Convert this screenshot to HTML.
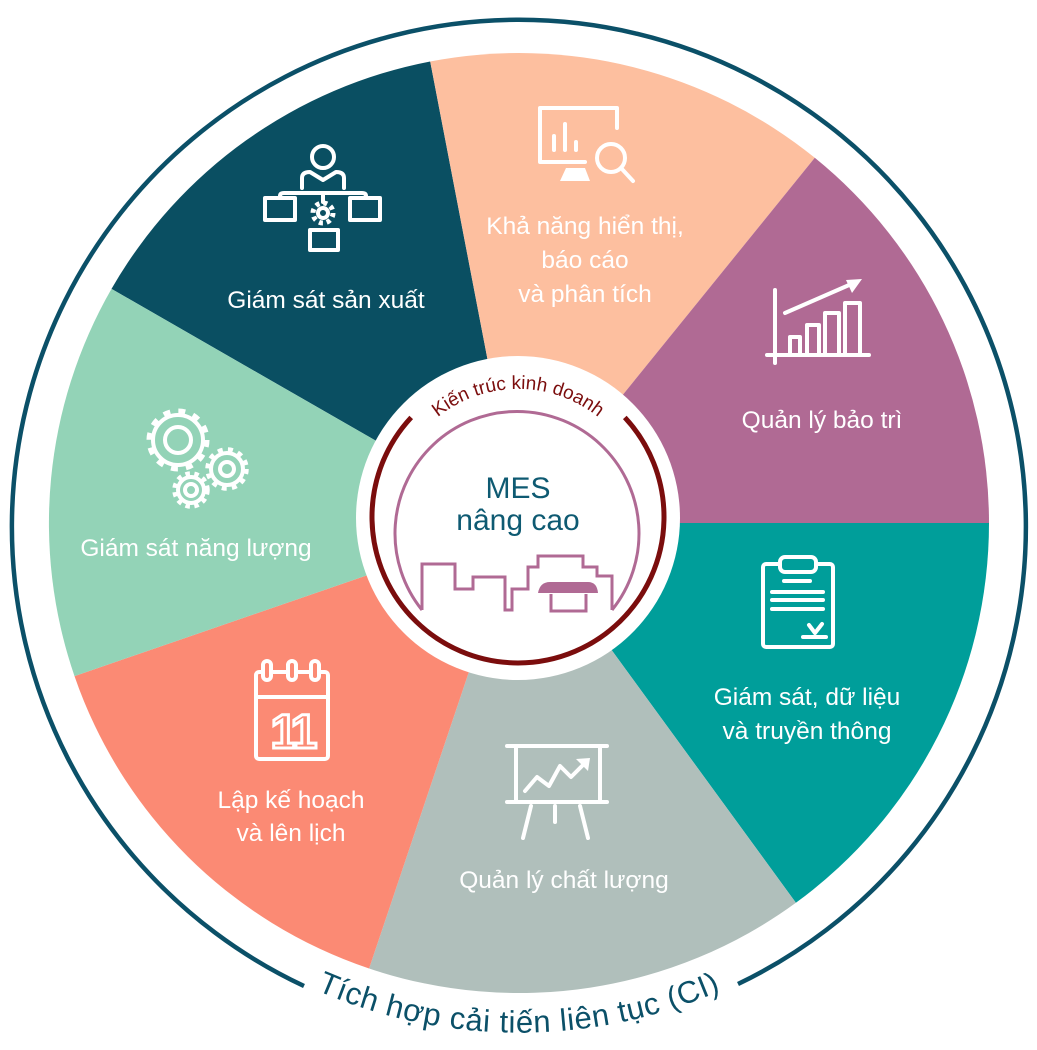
<!DOCTYPE html>
<html><head><meta charset="utf-8"><style>
html,body{margin:0;padding:0;background:#fff;}
svg{display:block;}
.lbl{font-family:"Liberation Sans",sans-serif;font-size:24.5px;fill:#fff;text-anchor:middle;}
.ic{fill:none;stroke:#fff;stroke-width:4;stroke-linecap:round;stroke-linejoin:round;}
</style></head><body>
<svg width="1037" height="1050" viewBox="0 0 1037 1050" xmlns="http://www.w3.org/2000/svg">
<g>
<path d="M519 523 L111.5 288.9 A470 470 0 0 1 430.2 61.5 Z" fill="#0a4f62"/>
<path d="M519 523 L430.2 61.5 A470 470 0 0 1 814.8 157.8 Z" fill="#fdbf9f"/>
<path d="M519 523 L814.8 157.8 A470 470 0 0 1 989 523 Z" fill="#b06a94"/>
<path d="M519 523 L989 523 A470 470 0 0 1 795.9 902.8 Z" fill="#009e9a"/>
<path d="M519 523 L795.9 902.8 A470 470 0 0 1 369.1 968.5 Z" fill="#b0bfbb"/>
<path d="M519 523 L369.1 968.5 A470 470 0 0 1 74.5 676.1 Z" fill="#fb8a74"/>
<path d="M519 523 L74.5 676.1 A470 470 0 0 1 111.5 288.9 Z" fill="#93d3b7"/>
</g>
<path d="M304 986 A507 507 0 1 1 738 984" fill="none" stroke="#0b5068" stroke-width="4.5"/>
<path id="outerTxt" d="M81 780 A506 506 0 0 0 957 780" fill="none"/>
<text font-family="Liberation Sans, sans-serif" font-size="31" fill="#0b5068" letter-spacing="0.6"><textPath href="#outerTxt" startOffset="50%" text-anchor="middle">Tích hợp cải tiến liên tục (CI)</textPath></text>

<circle cx="518" cy="518" r="162" fill="#fff"/>
<path d="M624.8 417.4 A146 146 0 1 1 411.2 417.4" fill="none" stroke="#7b0d0d" stroke-width="5"/>
<path id="innerTxt" d="M397.7 473.2 A128 128 0 0 1 638.3 473.2" fill="none"/>
<text font-family="Liberation Sans, sans-serif" font-size="19" fill="#7b0d0d"><textPath href="#innerTxt" startOffset="50%" text-anchor="middle">Kiến trúc kinh doanh</textPath></text>
<path d="M422 610 A122 122 0 1 1 612 610" fill="none" stroke="#b06a94" stroke-width="3"/>
<polyline points="422,610 422,564 455,564 455,589 473,589 473,577 505,577 505,610 512,610 512,589 528,589 528,567 538,567 538,556 583,556 583,567 597,567 597,576 612,576 612,610" fill="none" stroke="#b06a94" stroke-width="3"/>
<path d="M538 593 Q540 582 550 582 L588 582 Q597 582 598 593 Z" fill="#b06a94"/>
<polyline points="551,594 551,611 586,611 586,594" fill="none" stroke="#b06a94" stroke-width="3"/>
<text x="518" y="498" font-family="Liberation Sans, sans-serif" font-size="30" fill="#0e5a72" text-anchor="middle">MES</text>
<text x="518" y="530" font-family="Liberation Sans, sans-serif" font-size="30" fill="#0e5a72" text-anchor="middle">nâng cao</text>

<text class="lbl" x="326" y="308">Giám sát sản xuất</text>
<text class="lbl" x="585" y="234">Khả năng hiển thị,</text>
<text class="lbl" x="585" y="268">báo cáo</text>
<text class="lbl" x="585" y="302">và phân tích</text>
<text class="lbl" x="822" y="428">Quản lý bảo trì</text>
<text class="lbl" x="807" y="705">Giám sát, dữ liệu</text>
<text class="lbl" x="807" y="739">và truyền thông</text>
<text class="lbl" x="564" y="888">Quản lý chất lượng</text>
<text class="lbl" x="291" y="808">Lập kế hoạch</text>
<text class="lbl" x="291" y="841">và lên lịch</text>
<text class="lbl" x="196" y="556">Giám sát năng lượng</text>

<g class="ic" stroke-width="3">
<circle cx="323" cy="157" r="11"/>
<path d="M302 188 L302 178 Q302 172 310 172 L323 180 L336 172 Q344 172 344 178 L344 188"/>
<path d="M280 198 L280 196 Q280 193 284 193 L362 193 Q366 193 366 196 L366 198"/>
<line x1="323" y1="193" x2="323" y2="202"/>
<rect x="265" y="198" width="30" height="22"/>
<rect x="350" y="198" width="30" height="22"/>
<rect x="310" y="230" width="28" height="20"/>
<circle cx="323" cy="213" r="5"/>
<circle cx="323" cy="213" r="10" stroke-dasharray="4 3.85" stroke-width="5" stroke-linecap="butt"/>
</g>
<g class="ic" stroke-width="4.5">
<path d="M617 128 L617 108 L540 108 L540 162 L585 162"/>
<line x1="554" y1="150" x2="554" y2="136"/>
<line x1="565" y1="150" x2="565" y2="124"/>
<line x1="576" y1="150" x2="576" y2="142"/>
<circle cx="611" cy="158" r="14"/>
<line x1="621" y1="168" x2="633" y2="181"/>
</g>
<path d="M566 168 L585 168 L590 181 L560 181 Z" fill="#fff"/>
<g class="ic" stroke-width="3.5">
<line x1="775" y1="290" x2="775" y2="363"/>
<line x1="767" y1="355" x2="869" y2="355"/>
<rect x="790" y="337" width="10" height="18"/>
<rect x="807" y="325" width="12" height="30"/>
<rect x="825" y="313" width="14" height="42"/>
<rect x="845" y="303" width="15" height="52"/>
<line x1="785" y1="313" x2="856" y2="282"/>
</g>
<path d="M862 279 L846 280 L852 293 Z" fill="#fff"/>
<g class="ic" stroke-width="4">
<rect x="763" y="564" width="70" height="83" rx="3"/>
<rect x="780" y="557" width="36" height="15" rx="5" fill="#009e9a"/>
<line x1="784" y1="581" x2="810" y2="581"/>
<line x1="772" y1="592" x2="823" y2="592"/>
<line x1="772" y1="600" x2="823" y2="600"/>
<line x1="772" y1="609" x2="823" y2="609"/>
<path d="M809 625 L815 633 L822 624"/>
<line x1="803" y1="637" x2="826" y2="637"/>
</g>
<g class="ic" stroke-width="4">
<line x1="507" y1="746" x2="607" y2="746"/>
<line x1="507" y1="802" x2="607" y2="802"/>
<rect x="516" y="746" width="84" height="56"/>
<path d="M525 791 L537 777 L549 786 L560 766 L571 777 L586 762"/>
<line x1="531" y1="806" x2="523" y2="838"/>
<line x1="555" y1="806" x2="555" y2="822"/>
<line x1="580" y1="806" x2="588" y2="838"/>
</g>
<path d="M590 758 L576 759 L588 771 Z" fill="#fff"/>
<g class="ic" stroke-width="4">
<rect x="256" y="672" width="72" height="87" rx="3"/>
<line x1="256" y1="697" x2="328" y2="697"/>
<rect x="263" y="661" width="8" height="19" rx="4" fill="#fb8a74"/>
<rect x="288" y="661" width="8" height="19" rx="4" fill="#fb8a74"/>
<rect x="311" y="661" width="8" height="19" rx="4" fill="#fb8a74"/>
</g>
<text x="292" y="748" font-family="Liberation Sans, sans-serif" font-weight="bold" font-size="48" fill="none" stroke="#fff" stroke-width="3" text-anchor="middle" letter-spacing="-4">11</text>
<g class="ic" stroke-width="3">
<circle cx="178" cy="440" r="25"/>
<circle cx="178" cy="440" r="29" stroke-width="5" stroke-dasharray="7 8.2" stroke-linecap="butt"/>
<circle cx="178" cy="440" r="13"/>
<circle cx="227" cy="469" r="16"/>
<circle cx="227" cy="469" r="19.5" stroke-width="4.5" stroke-dasharray="5 5.3" stroke-linecap="butt"/>
<circle cx="227" cy="469" r="7"/>
<circle cx="191" cy="490" r="13"/>
<circle cx="191" cy="490" r="16.5" stroke-width="4.5" stroke-dasharray="4.5 4.5" stroke-linecap="butt"/>
<circle cx="191" cy="490" r="6"/>
</g>
</svg>
</body></html>
